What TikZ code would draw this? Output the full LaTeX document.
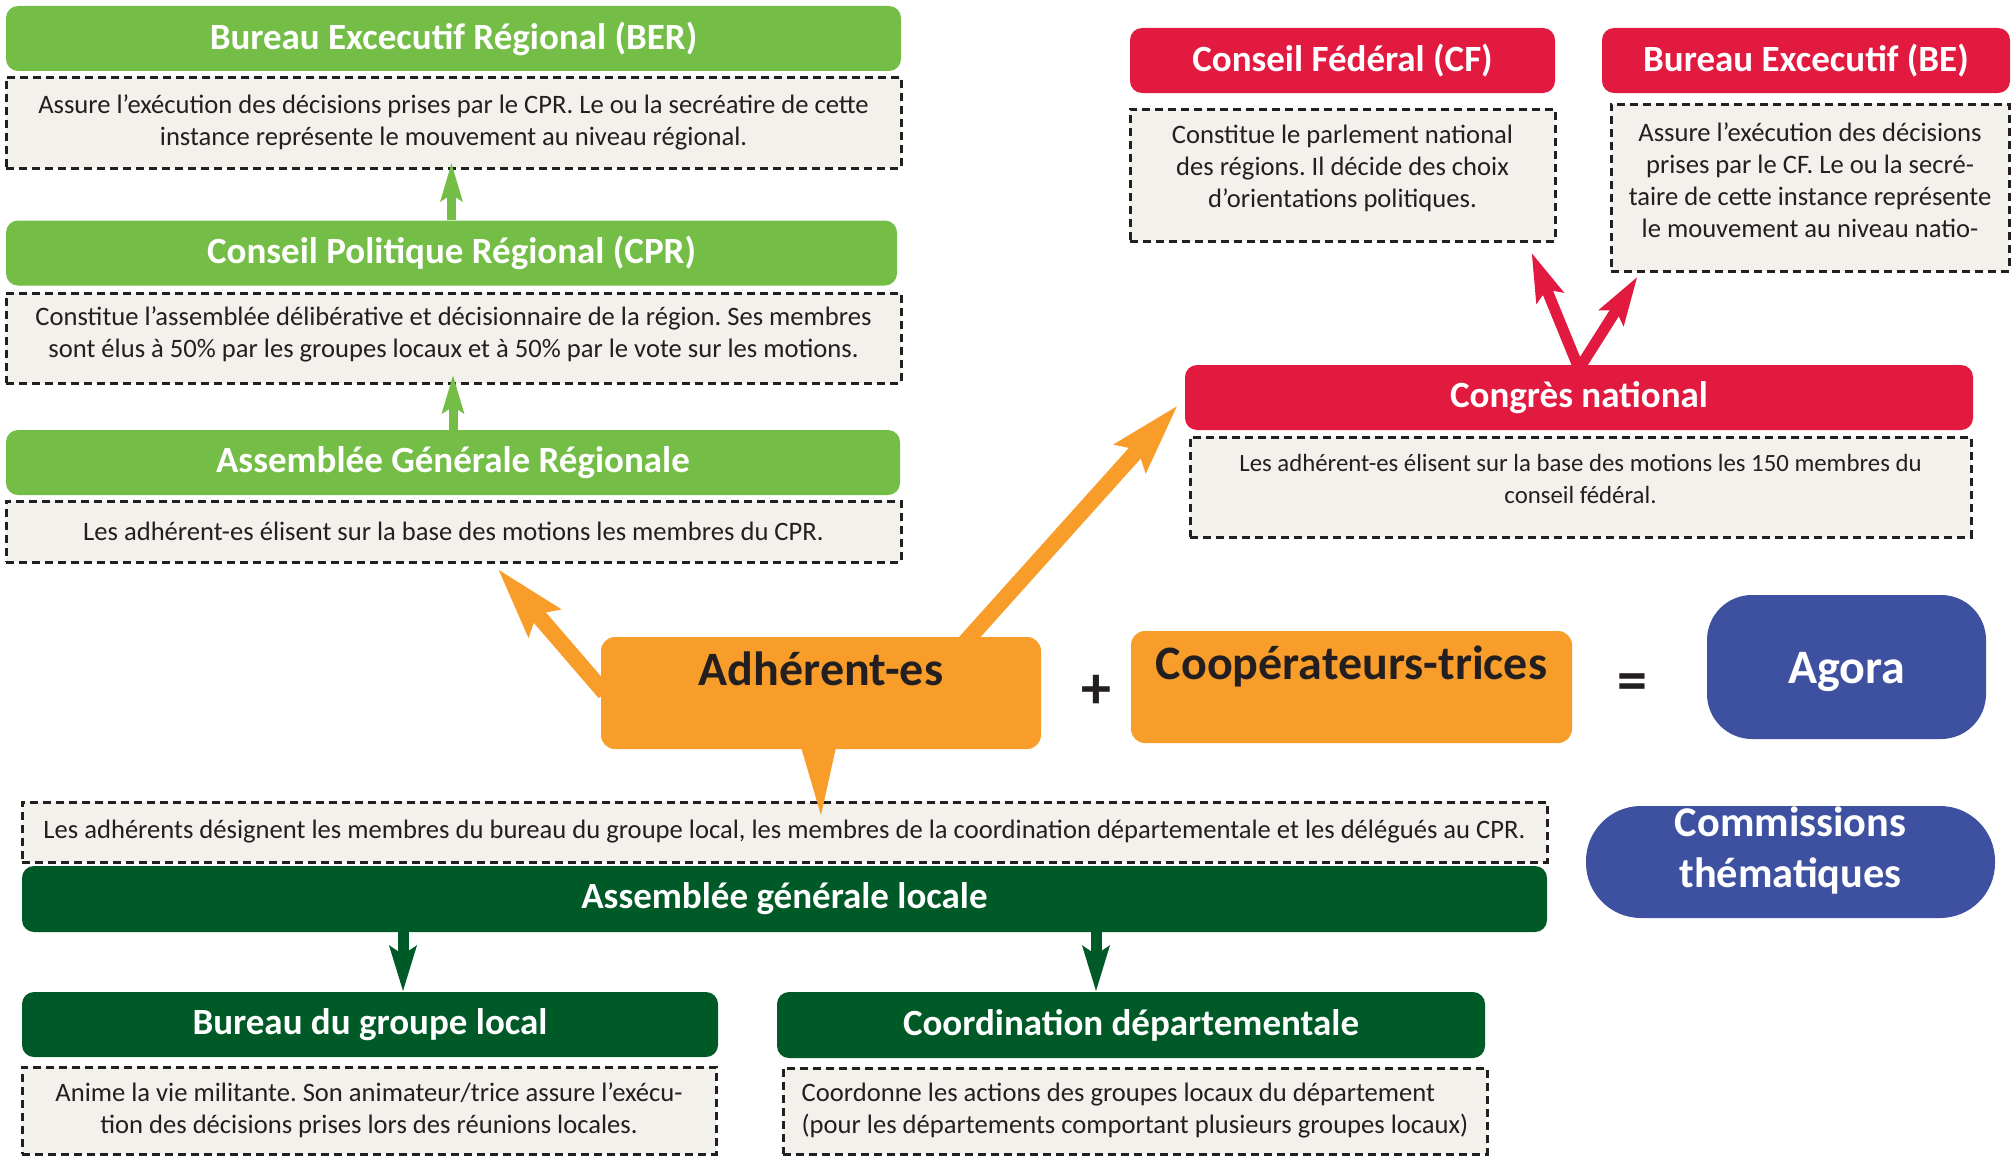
\documentclass[tikz,border=0pt]{standalone}
\usepackage{fontspec}
\setmainfont{Carlito}
\usetikzlibrary{arrows.meta}
\frenchspacing

\definecolor{regiongreen}{RGB}{116,190,72}
\definecolor{localgreen}{RGB}{0,90,40}
\definecolor{nationalred}{RGB}{227,26,64}
\definecolor{adhorange}{RGB}{248,157,42}
\definecolor{agorablue}{RGB}{62,81,160}
\definecolor{descfill}{RGB}{242,241,236}
\definecolor{inktext}{RGB}{35,31,32}

\begin{document}
\begin{tikzpicture}[x=1pt,y=-1pt,
        boxtitle/.style={rounded corners=12pt, text=white, inner sep=0pt, minimum height=65pt,
          font=\fontsize{37}{40}\selectfont\bfseries},
        regtitle/.style={boxtitle, fill=regiongreen},
        nattitle/.style={boxtitle, fill=nationalred},
        loctitle/.style={boxtitle, fill=localgreen},
        desc/.style={fill=descfill, draw=inktext, line width=3pt, dash pattern=on 8pt off 5pt,
          text=inktext, inner sep=0pt, align=center, font=\fontsize{26.6}{32}\selectfont},
        member/.style={fill=adhorange, rounded corners=14pt, text=inktext, inner sep=0pt,
          minimum width=440pt, minimum height=112pt, text height=30pt, text depth=45pt,
          font=\fontsize{48}{52}\selectfont\bfseries},
        agora/.style={fill=agorablue, text=white, inner sep=0pt, align=center,
          font=\fontsize{48}{52}\selectfont\bfseries},
        sign/.style={text=inktext, inner sep=0pt, font=\fontsize{60}{60}\selectfont\bfseries},
        regarrow/.style={draw=regiongreen, line width=9pt, -{Stealth[length=38pt,width=21pt,inset=6pt]}},
        locarrow/.style={draw=localgreen, line width=11pt, -{Stealth[length=45pt,width=26pt,inset=8pt]}},
        natarrow/.style={draw=nationalred, line width=11pt, -{Stealth[length=48pt,width=28pt,inset=8pt]}},
        adharrow/.style={draw=adhorange, line width=16pt, -{Stealth[length=70pt,width=40pt,inset=10pt]}}]
        \useasboundingbox[fill=white] (0,0) rectangle (2015,1156);
        \node[regtitle, minimum width=895pt] (ber) at (453.5,38.5) {Bureau Excecutif Régional (BER)};
        \node[desc, minimum width=895pt, minimum height=91pt] (berdesc) at (453.5,122.5)
          {Assure l’exécution des décisions prises par le CPR. Le ou la secréatire de cette\\
           instance représente le mouvement au niveau régional.};
        \node[regtitle, minimum width=891pt] (cpr) at (451.5,253) {Conseil Politique Régional (CPR)};
        \node[desc, minimum width=895pt, minimum height=90pt] (cprdesc) at (453.5,338)
          {Constitue l’assemblée délibérative et décisionnaire de la région. Ses membres\\
           sont élus à 50\% par les groupes locaux et à 50\% par le vote sur les motions.\rule[-12pt]{0pt}{12pt}};
        \node[regtitle, minimum width=894pt] (agr) at (453,462.5) {Assemblée Générale Régionale};
        \node[desc, minimum width=895pt, minimum height=61pt] (agrdesc) at (453.5,531.5)
          {Les adhérent-es élisent sur la base des motions les membres du CPR.};
        \node[nattitle, minimum width=425pt] (cf) at (1342.5,60.5) {Conseil Fédéral (CF)};
        \node[desc, minimum width=425pt, minimum height=132pt] (cfdesc) at (1342.5,175)
          {Constitue le parlement national\\ des régions. Il décide des choix\\
           d’orientations politiques.\rule[-17pt]{0pt}{17pt}};
        \node[nattitle, minimum width=408pt] (be) at (1806,60.5) {Bureau Excecutif (BE)};
        \node[desc, minimum width=398pt, minimum height=167pt] (bedesc) at (1810,187.5)
          {Assure l’exécution des décisions\\ prises par le CF. Le ou la secré-\\
           taire de cette instance représente\\ le mouvement au niveau natio-\rule[-14pt]{0pt}{14pt}};
        \node[nattitle, minimum width=788pt] (congres) at (1579,397.5) {Congrès national};
        \node[desc, minimum width=781pt, minimum height=100pt, font=\fontsize{24.8}{32}\selectfont]
          (congresdesc) at (1580.5,487)
          {Les adhérent-es élisent sur la base des motions les 150 membres du\\
           conseil fédéral.\rule[-16pt]{0pt}{16pt}};
        \node[member] (adh) at (821,693) {Adhérent-es};
        \node[member, minimum width=441pt] (coop) at (1351.5,687) {Coopérateurs-trices};
        \node[sign] (plus) at (1096,692) {+};
        \node[sign] (equal) at (1632,687) {=};
        \node[agora, rounded corners=45pt, minimum width=279pt, minimum height=144pt,
          text height=32pt, text depth=0pt] (agora) at (1846.5,667) {Agora};
        \node[agora, rounded corners=55pt, minimum width=409pt, minimum height=112pt,
          font=\fontsize{42.4}{51}\selectfont\bfseries] (commissions)
          at (1790.5,862) {Commissions\\ thématiques\rule[-30pt]{0pt}{30pt}};
        \node[desc, minimum width=1525pt, minimum height=60pt] (agldesc) at (784.5,832)
          {Les adhérents désignent les membres du bureau du groupe local, les membres de la coordination départementale et les délégués au CPR.};
        \node[loctitle, minimum width=1525pt, minimum height=66pt] (agl) at (784.5,899) {Assemblée générale locale};
        \node[loctitle, minimum width=696pt] (bgl) at (370,1024.5) {Bureau du groupe local};
        \node[desc, minimum width=694pt, minimum height=87pt] (bgldesc) at (369,1110.5)
          {Anime la vie militante. Son animateur/trice assure l’exécu-\\ tion des décisions prises lors des réunions locales.};
        \node[loctitle, minimum width=708pt, minimum height=66pt] (coord) at (1131,1025) {Coordination départementale};
        \node[desc, align=left, minimum width=704pt, minimum height=86pt] (coorddesc) at (1135,1111)
          {Coordonne les actions des groupes locaux du département\\ (pour les départements comportant plusieurs groupes locaux)};
        \draw[regarrow, shorten >=-7pt] (cpr.north) -- (cpr.north |- berdesc.south);
        \draw[regarrow, shorten >=-10pt] (agr.north) -- (agr.north |- cprdesc.south);
        \draw[natarrow] ([yshift=-4pt]congres.north) -- ([xshift=-25pt,yshift=-10pt]cfdesc.south east);
        \draw[natarrow] ([yshift=-4pt]congres.north) -- ([xshift=28pt,yshift=-4pt]bedesc.south west);
        \draw[adharrow] ([xshift=4pt]adh.west) -- ([xshift=44pt,yshift=-5pt]agrdesc.south);
        \draw[adharrow, shorten >=10pt] ([xshift=140pt,yshift=-10pt]adh.north) -- (congres.west);
        \fill[adhorange] ([xshift=-20pt,yshift=2pt]adh.south) -- ([xshift=15pt,yshift=2pt]adh.south)
          -- ([yshift=-66pt]adh.south) -- cycle;
        \coordinate (bgltop) at ([xshift=33pt]bgl.north);
        \coordinate (coordtop) at ([xshift=-35pt]coord.north);
        \draw[locarrow] (bgltop |- agl.south) -- (bgltop);
        \draw[locarrow] (coordtop |- agl.south) -- (coordtop);
\end{tikzpicture}
\end{document}
